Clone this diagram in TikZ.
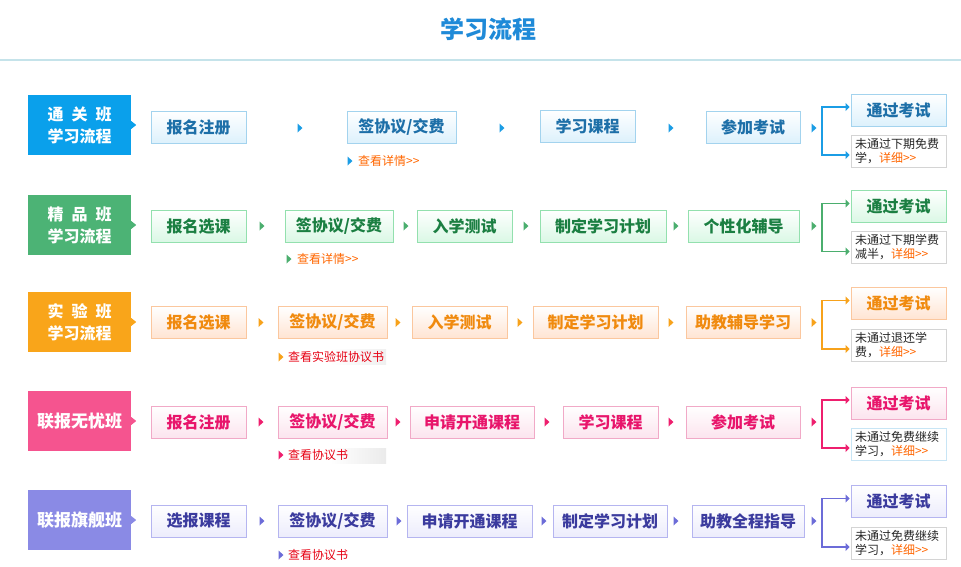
\documentclass[tikz,border=0pt]{standalone}
\usepackage{fontspec}
\setmainfont{Noto Sans CJK SC}
\usetikzlibrary{arrows.meta}
\definecolor{ttl}{HTML}{1F8AD8}
\definecolor{rule}{HTML}{C5E3EA}
\definecolor{lnk}{HTML}{FF6600}
\definecolor{lnkred}{HTML}{E60012}
% blue
\definecolor{lbA}{HTML}{0AA0EB}\definecolor{arA}{HTML}{1B9DE5}\definecolor{bdA}{HTML}{A3D3EE}\definecolor{flA}{HTML}{DDF1FC}\definecolor{txA}{HTML}{1D6FA8}
% green
\definecolor{lbB}{HTML}{4CB375}\definecolor{arB}{HTML}{4BAE6E}\definecolor{bdB}{HTML}{93E0AE}\definecolor{flB}{HTML}{DAF8E5}\definecolor{txB}{HTML}{1B7F42}
% orange
\definecolor{lbC}{HTML}{F9A51A}\definecolor{arC}{HTML}{F7A21B}\definecolor{bdC}{HTML}{FBC79E}\definecolor{flC}{HTML}{FFE4D2}\definecolor{txC}{HTML}{F08A0E}
% pink
\definecolor{lbD}{HTML}{F5548F}\definecolor{arD}{HTML}{EE1F6E}\definecolor{bdD}{HTML}{F1A9C7}\definecolor{flD}{HTML}{FCE4EE}\definecolor{txD}{HTML}{E8156B}
% purple
\definecolor{lbE}{HTML}{8A8AE5}\definecolor{arE}{HTML}{6C6CD8}\definecolor{bdE}{HTML}{B5B5F0}\definecolor{flE}{HTML}{ECECFC}\definecolor{txE}{HTML}{3B3B9E}
\definecolor{failbd}{HTML}{D4D4D4}

\newcommand\stepnode[5]{\node[stepbox, th#1, minimum width=#4pt] (#2) at (#3) {#5};}
\newcommand\steptri[3]{\fill[#1] (#2-2.5,#3-4.5) -- (#2+2.5,#3) -- (#2-2.5,#3+4.5) -- cycle;}
\newcommand\labtri[2]{\fill[#1] ([yshift=4pt]#2.east) -- ([xshift=5pt]#2.east) -- ([yshift=-4pt]#2.east) -- cycle;}

\begin{document}
\begin{tikzpicture}[x=1pt,y=-1pt,
  stepbox/.style={rectangle, line width=0.8pt, minimum height=32pt, inner sep=0pt,
    font=\fontsize{16}{18}\selectfont\bfseries},
  thA/.style={draw=bdA, top color=white, bottom color=flA, text=txA},
  thB/.style={draw=bdB, top color=white, bottom color=flB, text=txB},
  thC/.style={draw=bdC, top color=white, bottom color=flC, text=txC},
  thD/.style={draw=bdD, top color=white, bottom color=flD, text=txD},
  thE/.style={draw=bdE, top color=white, bottom color=flE, text=txE},
  classlabel/.style={rectangle, minimum width=103pt, minimum height=60pt, inner sep=0pt,
    text=white, align=center, font=\fontsize{16}{22}\selectfont\bfseries},
  failbox/.style={rectangle, draw=failbd, fill=white, line width=0.8pt, minimum width=95pt,
    minimum height=32pt, text width=87pt, inner xsep=4pt, inner ysep=0pt, align=left,
    font=\fontsize{12}{14}\selectfont, text=black!85},
  linktext/.style={anchor=west, inner sep=0pt, font=\fontsize{12}{14}\selectfont},
  brk/.style={line width=1.8pt, {Triangle[length=4pt,width=8pt]}-{Triangle[length=4pt,width=8pt]},
    shorten <=1pt, shorten >=1pt}
]
\useasboundingbox (0,0) rectangle (961,566);

% title
\node[font=\fontsize{24}{26}\selectfont\bfseries, text=ttl] (title) at (488,29) {学习流程};
\coordinate (hl) at (0,60);
\coordinate (hr) at (961,60);
\draw[rule, line width=1.5pt] (hl) -- (hr);

% ===== Row 1 =====
\node[classlabel, fill=lbA] (L1) at (79.5,125) {\makebox[64pt][s]{通\hfill 关\hfill 班}\\学习流程};
\labtri{lbA}{L1}
\stepnode{A}{s11}{198.5,127}{95}{报名注册}
\steptri{arA}{300}{128}
\stepnode{A}{s12}{401.5,127}{109}{签协议/交费}
\steptri{arA}{502}{128}
\stepnode{A}{s13}{587.5,126}{95}{学习课程}
\steptri{arA}{671}{128}
\stepnode{A}{s14}{753,127}{94}{参加考试}
\steptri{arA}{814}{128}
\stepnode{A}{p1}{898.5,110}{95}{通过考试}
\node[failbox] (f1) at (898.5,151) {未通过下期免费\\学，\textcolor{lnk}{详细>{}>}};
\coordinate (b1) at (822,131);
\draw[brk, arA] ([yshift=3pt]p1.west) -| (b1) |- ([yshift=-4pt]f1.west);
\steptri{arA}{350}{161}
\node[linktext, text=lnk] (k1) at (358,161) {查看详情>{}>};

% ===== Row 2 =====
\node[classlabel, fill=lbB] (L2) at (79.5,225) {\makebox[64pt][s]{精\hfill 品\hfill 班}\\学习流程};
\labtri{lbB}{L2}
\stepnode{B}{s21}{198.5,226}{95}{报名选课}
\steptri{arB}{262}{226}
\stepnode{B}{s22}{339,226}{108}{签协议/交费}
\steptri{arB}{406}{226}
\stepnode{B}{s23}{464.5,226}{95}{入学测试}
\steptri{arB}{526}{226}
\stepnode{B}{s24}{603,226}{126}{制定学习计划}
\steptri{arB}{676}{226}
\stepnode{B}{s25}{743.5,226}{111}{个性化辅导}
\steptri{arB}{814}{226}
\stepnode{B}{p2}{898.5,206.5}{95}{通过考试}
\node[failbox] (f2) at (898.5,247.5) {未通过下期学费\\减半，\textcolor{lnk}{详细>{}>}};
\coordinate (b2) at (822,228);
\draw[brk, arB] ([yshift=3pt]p2.west) -| (b2) |- ([yshift=-4pt]f2.west);
\steptri{arB}{289}{259}
\node[linktext, text=lnk] (k2) at (297,259) {查看详情>{}>};

% ===== Row 3 =====
\node[classlabel, fill=lbC] (L3) at (79.5,322) {\makebox[64pt][s]{实\hfill 验\hfill 班}\\学习流程};
\labtri{lbC}{L3}
\stepnode{C}{s31}{198.5,322.5}{95}{报名选课}
\steptri{arC}{261}{322.5}
\stepnode{C}{s32}{332.5,322.5}{109}{签协议/交费}
\steptri{arC}{398}{322.5}
\stepnode{C}{s33}{459.5,322.5}{95}{入学测试}
\steptri{arC}{520}{322.5}
\stepnode{C}{s34}{595.5,322.5}{125}{制定学习计划}
\steptri{arC}{671}{322.5}
\stepnode{C}{s35}{743,322.5}{114}{助教辅导学习}
\steptri{arC}{814}{322.5}
\stepnode{C}{p3}{898.5,303.5}{95}{通过考试}
\node[failbox] (f3) at (898.5,345) {未通过退还学\\费，\textcolor{lnk}{详细>{}>}};
\coordinate (b3) at (822,325);
\draw[brk, arC] ([yshift=3pt]p3.west) -| (b3) |- ([yshift=-4pt]f3.west);
\shade[left color=white, right color=black!6] (330,349) rectangle (386,364);
\steptri{arC}{281}{357}
\node[linktext, text=lnkred] (k3) at (288,357) {查看实验班协议书};

% ===== Row 4 =====
\node[classlabel, fill=lbD, font=\fontsize{17}{20}\selectfont\bfseries] (L4) at (79.5,421) {联报无忧班};
\labtri{lbD}{L4}
\stepnode{D}{s41}{198.5,422}{95}{报名注册}
\steptri{arD}{261}{422}
\stepnode{D}{s42}{332.5,422}{109}{签协议/交费}
\steptri{arD}{398}{422}
\stepnode{D}{s43}{472,422}{124}{申请开通课程}
\steptri{arD}{547}{422}
\stepnode{D}{s44}{610.5,422}{95}{学习课程}
\steptri{arD}{671}{422}
\stepnode{D}{s45}{743,422}{114}{参加考试}
\steptri{arD}{814}{422}
\stepnode{D}{p4}{898.5,403}{95}{通过考试}
\node[failbox, draw=bdA!60] (f4) at (898.5,444) {未通过免费继续\\学习，\textcolor{lnk}{详细>{}>}};
\coordinate (b4) at (822,424);
\draw[brk, arD] ([yshift=3pt]p4.west) -| (b4) |- ([yshift=-4pt]f4.west);
\shade[left color=white, right color=black!8] (330,448) rectangle (386,463);
\steptri{arD}{281}{455}
\node[linktext, text=lnkred] (k4) at (288,455) {查看协议书};

% ===== Row 5 =====
\node[classlabel, fill=lbE, font=\fontsize{17}{20}\selectfont\bfseries] (L5) at (79.5,520) {联报旗舰班};
\labtri{lbE}{L5}
\stepnode{E}{s51}{198.5,521}{95}{选报课程}
\steptri{arE}{262}{521}
\stepnode{E}{s52}{332.5,521}{109}{签协议/交费}
\steptri{arE}{399}{521}
\stepnode{E}{s53}{469.5,521}{125}{申请开通课程}
\steptri{arE}{544}{521}
\stepnode{E}{s54}{610,521}{114}{制定学习计划}
\steptri{arE}{676}{521}
\stepnode{E}{s55}{748,521}{112}{助教全程指导}
\steptri{arE}{814}{521}
\stepnode{E}{p5}{898.5,501.5}{95}{通过考试}
\node[failbox] (f5) at (898.5,543) {未通过免费继续\\学习，\textcolor{lnk}{详细>{}>}};
\coordinate (b5) at (822,523);
\draw[brk, arE] ([yshift=3pt]p5.west) -| (b5) |- ([yshift=-4pt]f5.west);
\steptri{arE}{281}{555}
\node[linktext, text=lnkred] (k5) at (288,555) {查看协议书};
\end{tikzpicture}
\end{document}
